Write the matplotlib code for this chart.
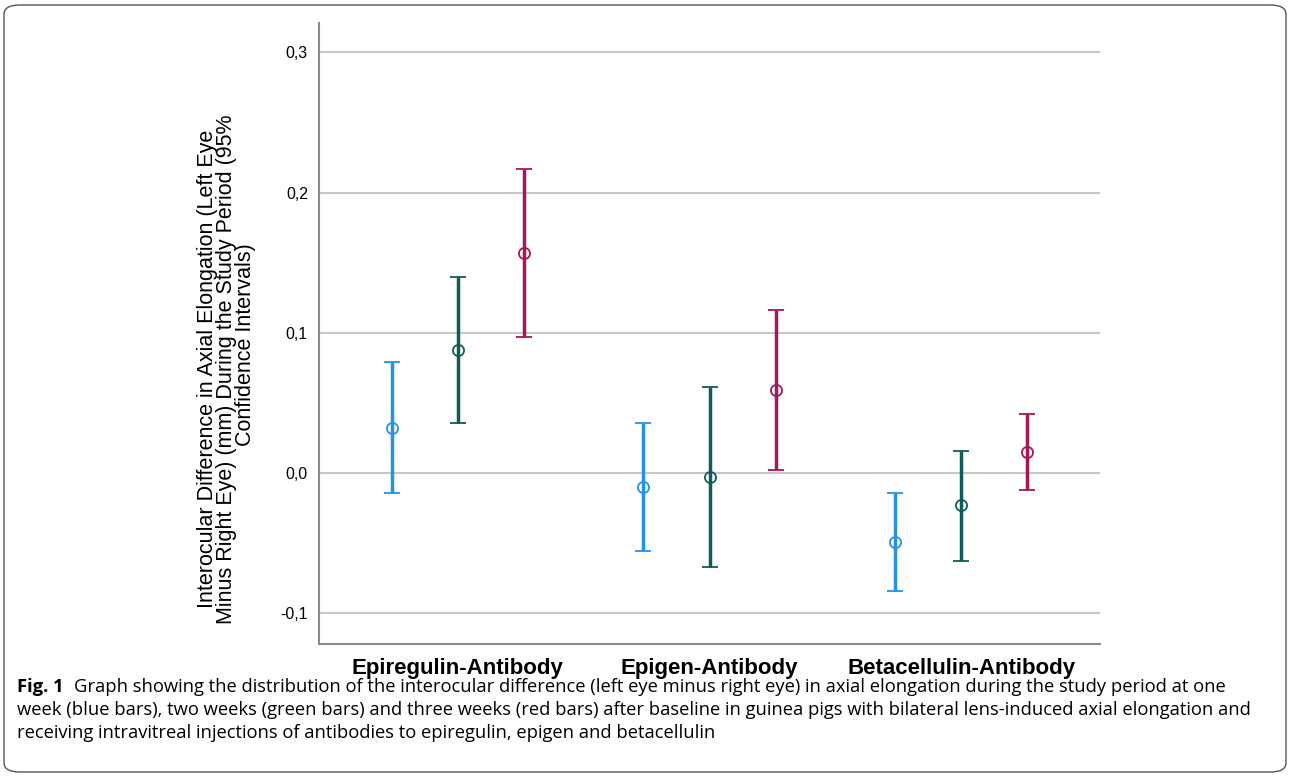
import numpy as np
import matplotlib
matplotlib.use('Agg')
import matplotlib.pyplot as plt
from matplotlib.patches import FancyBboxPatch
from matplotlib.ticker import FuncFormatter

# data
groups = ['Epiregulin-Antibody', 'Epigen-Antibody', 'Betacellulin-Antibody']

week1_mean = [0.032, -0.010, -0.049]
week1_lo = [-0.014, -0.056, -0.084]
week1_hi = [0.079, 0.036, -0.014]

week2_mean = [0.088, -0.003, -0.023]
week2_lo = [0.036, -0.067, -0.063]
week2_hi = [0.140, 0.061, 0.016]

week3_mean = [0.157, 0.059, 0.015]
week3_lo = [0.097, 0.002, -0.012]
week3_hi = [0.217, 0.116, 0.042]

y_ticks = [-0.1, 0.0, 0.1, 0.2, 0.3]

ylabel_lines = ['Interocular Difference in Axial Elongation (Left Eye',
                'Minus Right Eye) (mm) During the Study Period (95%',
                'Confidence Intervals)']

caption_bold = 'Fig. 1'
caption_lines = [
    'Graph showing the distribution of the interocular difference (left eye minus right eye) in axial elongation during the study period at one',
    'week (blue bars), two weeks (green bars) and three weeks (red bars) after baseline in guinea pigs with bilateral lens-induced axial elongation and',
    'receiving intravitreal injections of antibodies to epiregulin, epigen and betacellulin',
]

colors = ['#2592e2', '#0e5e57', '#a5175b']

W, H = 1290, 777
fig = plt.figure(figsize=(W / 100, H / 100), dpi=100)
ax = fig.add_axes([319 / W, 1 - 644 / H, (1100 - 319) / W, (644 - 23) / H])

x = np.arange(len(groups))
offsets = [-0.262, 0.0, 0.262]
series = [(week1_mean, week1_lo, week1_hi),
          (week2_mean, week2_lo, week2_hi),
          (week3_mean, week3_lo, week3_hi)]

for (m, lo, hi), off, c in zip(series, offsets, colors):
    m = np.array(m)
    yerr = [m - np.array(lo), np.array(hi) - m]
    ax.errorbar(x + off, m, yerr=yerr, fmt='o', color=c, mfc='none', mec=c,
                ms=8, mew=1.3, elinewidth=2.5, capsize=6, capthick=2.5, zorder=3)

ax.set_xlim(-0.55, 2.55)
ax.set_ylim(-0.122, 0.321)
ax.set_yticks(y_ticks)
ax.yaxis.set_major_formatter(FuncFormatter(lambda v, p: f'{v:.1f}'.replace('.', ',').replace('-0,0', '0,0')))
ax.set_xticks(x)
ax.set_xticklabels(groups, fontsize=16, fontweight='bold', family='Liberation Sans')
ax.tick_params(axis='both', length=0)
ax.tick_params(axis='x', pad=10)
ax.tick_params(axis='y', pad=8, labelsize=11.5)
for t in ax.get_yticklabels():
    t.set_family('Liberation Sans')
ax.grid(axis='y', color='#c8c8c8', lw=1.5, zorder=0)
ax.set_axisbelow(True)
for s in ['top', 'right']:
    ax.spines[s].set_visible(False)
for s in ['left', 'bottom']:
    ax.spines[s].set_color('#8a8a8a')
    ax.spines[s].set_linewidth(1.5)

# y axis title, three centred lines
for line, (lx, ly) in zip(ylabel_lines, [(208, 369), (227, 369), (246, 345)]):
    fig.text(lx / W, 1 - ly / H, line, rotation=90, ha='center', va='center',
             fontsize=15.5, family='Liberation Sans')

# caption
fig.canvas.draw()
r = fig.canvas.get_renderer()
cx, cy0, dy = 17, 687, 23
cap_fs = 13.2
tb = fig.text(cx / W, 1 - cy0 / H, caption_bold, fontsize=cap_fs, fontweight='bold',
              family='Open Sans', va='center', ha='left')
bb = tb.get_window_extent(r)
fig.text((bb.x1 + 10) / W, 1 - cy0 / H, caption_lines[0], fontsize=cap_fs,
         family='Open Sans', va='center', ha='left')
for i, line in enumerate(caption_lines[1:], start=1):
    fig.text(cx / W, 1 - (cy0 + i * dy) / H, line, fontsize=cap_fs,
             family='Open Sans', va='center', ha='left')

# frame around figure
frame = FancyBboxPatch((4 / W, 5 / H), 1282 / W, 767 / H,
                       boxstyle='round,pad=0,rounding_size=0.012',
                       transform=fig.transFigure, fill=False, ec='#555555', lw=1.0)
fig.patches.append(frame)

fig.savefig('out.png', dpi=100)
